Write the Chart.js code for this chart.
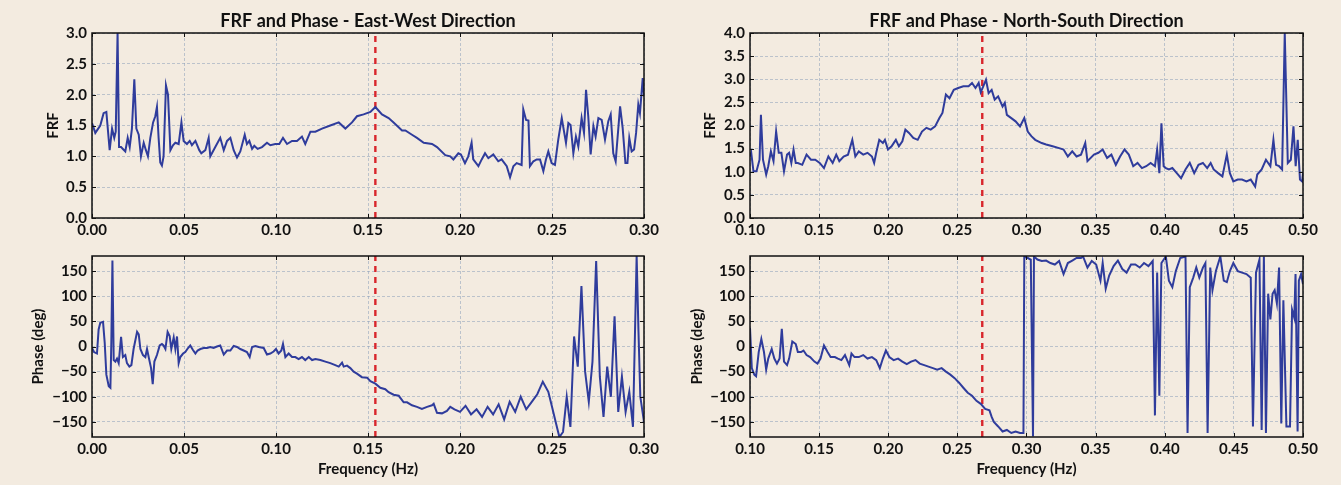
<!DOCTYPE html>
<html>
<head>
<meta charset="utf-8">
<script src="https://cdn.jsdelivr.net/npm/chart.js@4.4.0/dist/chart.umd.min.js"></script>
<style>
  body { margin: 0; background: #f3ebe0; width: 1341px; height: 485px; overflow: hidden; position: relative; }
  canvas { position: absolute; }
</style>
</head>
<body>
<canvas id="ewFrfChart" width="670" height="242" style="left:0;top:0"></canvas>
<canvas id="ewPhaseChart" width="670" height="243" style="left:0;top:242px"></canvas>
<canvas id="nsFrfChart" width="671" height="242" style="left:670px;top:0"></canvas>
<canvas id="nsPhaseChart" width="671" height="243" style="left:670px;top:242px"></canvas>
<script>
// frequency (Hz) / value pairs
const ewFrf = [
  [0.0000,1.54],[0.0018,1.38],[0.0045,1.50],[0.0063,1.70],[0.0078,1.72],[0.0096,1.10],[0.0109,1.45],[0.0121,1.30],
  [0.0129,1.40],[0.0139,3.00],[0.0147,1.15],[0.0158,1.15],[0.0168,1.12],[0.0181,1.08],[0.0194,1.30],[0.0205,1.15],
  [0.0217,1.45],[0.0230,2.25],[0.0241,1.45],[0.0254,1.35],[0.0266,1.00],[0.0281,1.22],[0.0293,1.10],[0.0304,1.00],
  [0.0317,1.30],[0.0332,1.55],[0.0344,1.65],[0.0353,1.80],[0.0362,1.30],[0.0371,0.90],[0.0380,0.85],[0.0389,1.00],
  [0.0402,2.15],[0.0413,2.00],[0.0426,1.10],[0.0440,1.18],[0.0453,1.22],[0.0471,1.20],[0.0486,1.55],[0.0498,1.25],
  [0.0516,1.20],[0.0531,1.25],[0.0543,1.18],[0.0562,1.25],[0.0583,1.10],[0.0594,1.05],[0.0616,1.10],[0.0634,1.30],
  [0.0643,1.00],[0.0670,1.15],[0.0697,1.30],[0.0716,1.10],[0.0734,1.25],[0.0752,1.30],[0.0770,1.10],[0.0788,0.98],
  [0.0806,1.08],[0.0830,1.35],[0.0842,1.20],[0.0855,1.25],[0.0870,1.12],[0.0882,1.17],[0.0900,1.12],[0.0924,1.15],
  [0.0951,1.22],[0.0969,1.18],[0.0996,1.20],[0.1018,1.20],[0.1038,1.30],[0.1060,1.20],[0.1087,1.25],[0.1114,1.25],
  [0.1141,1.32],[0.1159,1.20],[0.1187,1.40],[0.1214,1.40],[0.1250,1.45],[0.1295,1.50],[0.1341,1.55],[0.1377,1.45],
  [0.1413,1.55],[0.1440,1.65],[0.1476,1.68],[0.1513,1.72],[0.1540,1.80],[0.1576,1.68],[0.1612,1.62],[0.1639,1.55],
  [0.1685,1.42],[0.1703,1.42],[0.1739,1.35],[0.1766,1.30],[0.1803,1.22],[0.1848,1.20],[0.1875,1.15],[0.1920,1.02],
  [0.1947,1.00],[0.1964,0.95],[0.1991,1.05],[0.2005,1.03],[0.2027,0.89],[0.2045,1.00],[0.2063,1.22],[0.2072,0.95],
  [0.2100,0.84],[0.2118,0.95],[0.2136,1.05],[0.2154,0.97],[0.2181,1.03],[0.2208,0.92],[0.2226,0.95],[0.2254,0.84],
  [0.2272,0.66],[0.2290,0.84],[0.2308,0.89],[0.2335,0.86],[0.2344,1.76],[0.2359,1.59],[0.2372,1.58],[0.2380,0.84],
  [0.2399,0.92],[0.2417,0.95],[0.2435,0.95],[0.2453,0.76],[0.2467,0.95],[0.2480,1.08],[0.2498,0.89],[0.2516,0.86],
  [0.2534,1.27],[0.2553,1.62],[0.2565,1.41],[0.2576,1.22],[0.2589,1.54],[0.2601,1.51],[0.2616,1.05],[0.2630,1.32],
  [0.2643,1.16],[0.2661,1.62],[0.2674,1.38],[0.2685,2.08],[0.2697,1.65],[0.2710,1.03],[0.2725,1.49],[0.2737,1.32],
  [0.2752,1.62],[0.2770,1.59],[0.2788,1.27],[0.2806,1.57],[0.2819,1.68],[0.2833,1.05],[0.2846,0.92],[0.2870,1.81],
  [0.2884,1.46],[0.2899,0.89],[0.2910,0.89],[0.2920,1.30],[0.2933,1.08],[0.2946,1.11],[0.2957,1.38],[0.2969,1.84],
  [0.2978,1.70],[0.2993,2.27],[0.3000,1.97]
];
const ewPhase = [
  [0.0000,-3],[0.0011,-11],[0.0027,-14],[0.0036,34],[0.0045,47],[0.0060,49],[0.0069,8],[0.0078,-56],[0.0091,-79],
  [0.0100,-82],[0.0105,8],[0.0111,171],[0.0118,-27],[0.0127,-30],[0.0136,-24],[0.0145,-33],[0.0158,19],[0.0168,-21],
  [0.0181,-17],[0.0190,-33],[0.0203,-40],[0.0214,-37],[0.0226,-5],[0.0245,29],[0.0254,24],[0.0263,-5],[0.0277,-17],
  [0.0290,-21],[0.0299,-5],[0.0308,-21],[0.0321,-43],[0.0330,-75],[0.0339,-30],[0.0353,-17],[0.0368,2],[0.0380,5],
  [0.0389,2],[0.0399,-5],[0.0411,29],[0.0422,21],[0.0431,-5],[0.0444,18],[0.0453,-5],[0.0462,20],[0.0471,-33],
  [0.0480,-21],[0.0495,-14],[0.0507,-11],[0.0522,-3],[0.0534,2],[0.0547,-6],[0.0562,-14],[0.0574,-8],[0.0589,-5],
  [0.0607,-3],[0.0625,-3],[0.0643,-1],[0.0661,-3],[0.0679,0],[0.0697,2],[0.0716,-16],[0.0734,-8],[0.0752,-8],
  [0.0770,1],[0.0788,-1],[0.0806,-5],[0.0824,-8],[0.0842,-11],[0.0857,-21],[0.0870,-1],[0.0888,1],[0.0906,-1],
  [0.0933,-3],[0.0951,-16],[0.0969,-14],[0.0987,-10],[0.1000,-5],[0.1014,-14],[0.1029,-8],[0.1038,5],[0.1051,-21],
  [0.1069,-14],[0.1087,-21],[0.1105,-21],[0.1123,-25],[0.1141,-21],[0.1159,-27],[0.1178,-21],[0.1196,-27],[0.1214,-25],
  [0.1241,-27],[0.1268,-30],[0.1295,-33],[0.1322,-37],[0.1341,-40],[0.1359,-32],[0.1368,-40],[0.1386,-38],[0.1404,-43],
  [0.1422,-50],[0.1440,-54],[0.1467,-61],[0.1495,-62],[0.1513,-69],[0.1540,-74],[0.1567,-82],[0.1594,-85],[0.1612,-91],
  [0.1639,-96],[0.1667,-98],[0.1694,-111],[0.1712,-111],[0.1739,-117],[0.1766,-120],[0.1793,-124],[0.1821,-120],
  [0.1848,-117],[0.1857,-114],[0.1875,-132],[0.1902,-133],[0.1929,-128],[0.1947,-120],[0.1970,-125],[0.2000,-130],
  [0.2030,-118],[0.2060,-135],[0.2090,-125],[0.2120,-140],[0.2150,-120],[0.2180,-135],[0.2210,-115],[0.2240,-145],
  [0.2270,-110],[0.2300,-130],[0.2330,-100],[0.2360,-125],[0.2390,-110],[0.2420,-95],[0.2450,-70],[0.2480,-90],
  [0.2500,-120],[0.2520,-150],[0.2540,-180],[0.2560,-170],[0.2580,-100],[0.2600,-160],[0.2620,20],[0.2640,-40],
  [0.2660,120],[0.2680,-50],[0.2700,-110],[0.2720,-30],[0.2740,170],[0.2760,-60],[0.2780,-140],[0.2800,-40],
  [0.2820,-100],[0.2840,60],[0.2860,-130],[0.2880,-60],[0.2900,-130],[0.2920,-90],[0.2940,-160],[0.2960,180],
  [0.2970,30],[0.2980,-100],[0.3000,-150]
];
const nsFrf = [
  [0.1000,1.33],[0.1009,1.41],[0.1025,1.01],[0.1047,1.01],[0.1069,1.26],[0.1079,2.23],[0.1094,1.26],[0.1117,0.94],
  [0.1132,1.12],[0.1151,1.44],[0.1170,1.23],[0.1189,1.87],[0.1208,1.41],[0.1227,1.41],[0.1246,1.01],[0.1268,1.37],
  [0.1283,1.41],[0.1299,1.19],[0.1315,1.48],[0.1331,1.19],[0.1346,1.19],[0.1378,1.15],[0.1409,1.37],[0.1441,1.26],
  [0.1472,1.26],[0.1504,1.19],[0.1535,1.08],[0.1567,1.33],[0.1598,1.19],[0.1624,1.37],[0.1646,1.23],[0.1677,1.33],
  [0.1709,1.37],[0.1740,1.69],[0.1762,1.33],[0.1787,1.44],[0.1819,1.37],[0.1850,1.41],[0.1882,1.33],[0.1898,1.19],
  [0.1913,1.41],[0.1935,1.69],[0.1961,1.62],[0.1976,1.69],[0.1998,1.48],[0.2024,1.55],[0.2055,1.69],[0.2077,1.55],
  [0.2102,1.66],[0.2124,1.91],[0.2150,1.84],[0.2181,1.73],[0.2213,1.69],[0.2244,1.87],[0.2276,1.95],[0.2307,1.91],
  [0.2339,1.98],[0.2370,2.16],[0.2392,2.27],[0.2417,2.67],[0.2443,2.59],[0.2474,2.77],[0.2506,2.81],[0.2543,2.85],
  [0.2581,2.85],[0.2606,2.92],[0.2631,2.81],[0.2654,2.92],[0.2669,2.72],[0.2685,2.83],[0.2707,2.99],[0.2726,2.70],
  [0.2748,2.77],[0.2770,2.56],[0.2795,2.63],[0.2827,2.41],[0.2843,2.49],[0.2858,2.23],[0.2890,2.16],[0.2921,2.09],
  [0.2953,1.98],[0.2984,2.16],[0.3009,1.87],[0.3035,1.77],[0.3063,1.69],[0.3110,1.62],[0.3142,1.59],[0.3189,1.55],
  [0.3236,1.51],[0.3268,1.48],[0.3299,1.33],[0.3331,1.44],[0.3362,1.33],[0.3394,1.37],[0.3425,1.62],[0.3441,1.23],
  [0.3488,1.37],[0.3520,1.41],[0.3551,1.48],[0.3583,1.30],[0.3614,1.37],[0.3646,1.15],[0.3677,1.33],[0.3709,1.48],
  [0.3740,1.37],[0.3772,1.12],[0.3803,1.19],[0.3835,1.08],[0.3866,1.12],[0.3898,1.19],[0.3929,1.12],[0.3945,1.48],
  [0.3961,0.97],[0.3976,2.05],[0.3992,1.12],[0.4008,1.08],[0.4030,1.05],[0.4055,1.08],[0.4087,0.97],[0.4118,0.86],
  [0.4150,1.05],[0.4181,1.19],[0.4213,0.97],[0.4244,1.15],[0.4276,1.19],[0.4307,1.08],[0.4332,1.19],[0.4354,1.05],
  [0.4386,0.97],[0.4417,0.90],[0.4449,1.37],[0.4471,0.97],[0.4496,0.79],[0.4528,0.83],[0.4559,0.83],[0.4591,0.79],
  [0.4622,0.83],[0.4654,0.68],[0.4669,0.94],[0.4701,1.05],[0.4732,1.26],[0.4764,1.12],[0.4786,1.69],[0.4805,1.15],
  [0.4827,1.12],[0.4849,1.05],[0.4868,4.00],[0.4890,1.19],[0.4912,1.26],[0.4931,1.98],[0.4947,1.12],[0.4962,1.69],
  [0.4978,0.83],[0.4994,0.79],[0.5000,0.97]
];
const nsPhase = [
  [0.1000,37],[0.1013,-43],[0.1031,-56],[0.1044,-59],[0.1063,-11],[0.1082,15],[0.1101,-11],[0.1117,-46],[0.1132,-24],
  [0.1157,-5],[0.1176,-24],[0.1195,-34],[0.1214,-24],[0.1230,35],[0.1246,-30],[0.1268,-37],[0.1283,-24],[0.1306,10],
  [0.1331,5],[0.1346,-11],[0.1369,-11],[0.1387,-8],[0.1409,-17],[0.1435,-21],[0.1466,-30],[0.1488,-34],[0.1510,-24],
  [0.1535,2],[0.1561,-11],[0.1583,-21],[0.1614,-21],[0.1636,-24],[0.1661,-27],[0.1687,-17],[0.1718,-37],[0.1734,-14],
  [0.1756,-21],[0.1787,-21],[0.1819,-17],[0.1850,-24],[0.1882,-21],[0.1913,-27],[0.1939,-43],[0.1961,-24],[0.1983,-8],
  [0.2008,-21],[0.2039,-27],[0.2071,-24],[0.2102,-30],[0.2134,-35],[0.2165,-30],[0.2197,-27],[0.2228,-34],[0.2260,-37],
  [0.2291,-40],[0.2323,-43],[0.2354,-46],[0.2386,-43],[0.2417,-50],[0.2449,-56],[0.2480,-63],[0.2512,-72],[0.2543,-82],
  [0.2575,-92],[0.2606,-98],[0.2638,-108],[0.2669,-114],[0.2701,-124],[0.2732,-127],[0.2748,-140],[0.2764,-150],
  [0.2795,-159],[0.2827,-169],[0.2858,-166],[0.2890,-172],[0.2921,-169],[0.2953,-172],[0.2978,-172],[0.2984,179],
  [0.3009,176],[0.3031,173],[0.3047,-179],[0.3054,179],[0.3079,173],[0.3110,170],[0.3142,171],[0.3173,166],[0.3205,163],
  [0.3236,170],[0.3268,144],[0.3299,166],[0.3331,171],[0.3362,176],[0.3394,176],[0.3409,179],[0.3441,157],[0.3472,170],
  [0.3504,163],[0.3535,131],[0.3551,166],[0.3573,115],[0.3598,141],[0.3630,160],[0.3661,171],[0.3693,154],[0.3724,147],
  [0.3756,163],[0.3787,163],[0.3819,157],[0.3850,166],[0.3882,160],[0.3913,170],[0.3929,-137],[0.3945,147],[0.3961,-98],
  [0.3976,166],[0.4008,179],[0.4030,131],[0.4055,118],[0.4080,150],[0.4112,176],[0.4150,179],[0.4165,-172],[0.4181,118],
  [0.4206,137],[0.4228,157],[0.4250,137],[0.4276,157],[0.4294,166],[0.4310,-172],[0.4329,157],[0.4345,112],[0.4370,150],
  [0.4402,179],[0.4427,131],[0.4449,128],[0.4471,150],[0.4496,166],[0.4528,150],[0.4559,147],[0.4591,144],[0.4622,137],
  [0.4638,-159],[0.4660,147],[0.4685,173],[0.4701,-166],[0.4717,179],[0.4732,-172],[0.4748,105],[0.4764,54],[0.4780,105],
  [0.4795,112],[0.4811,86],[0.4827,157],[0.4843,-153],[0.4858,92],[0.4880,-159],[0.4906,-159],[0.4921,73],[0.4937,57],
  [0.4946,144],[0.4961,-169],[0.4970,131],[0.4986,144],[0.5000,124]
];

const ewPeak = 0.154;
const nsPeak = 0.268;

const ewFreqTicks = [0, 0.05, 0.10, 0.15, 0.20, 0.25, 0.30];
const nsFreqTicks = [0.10, 0.15, 0.20, 0.25, 0.30, 0.35, 0.40, 0.45, 0.50];
const ewFrfTicks = [0, 0.5, 1.0, 1.5, 2.0, 2.5, 3.0];
const nsFrfTicks = [0, 0.5, 1.0, 1.5, 2.0, 2.5, 3.0, 3.5, 4.0];
const phaseTicks = [-150, -100, -50, 0, 50, 100, 150];

const BLUE = '#2f3c9c';
const RED = '#d8262c';
const GRID = 'rgba(140,160,185,0.55)';
const FONT = 'Lato';

// black frame round the plot and small inward tick marks on all four sides
const framePlugin = {
  id: 'frame',
  afterDraw(chart) {
    const { ctx, chartArea: a, scales: { x, y } } = chart;
    ctx.save();
    ctx.strokeStyle = '#111';
    ctx.lineWidth = 1.5;
    ctx.strokeRect(a.left, a.top, a.right - a.left, a.bottom - a.top);
    ctx.lineWidth = 1;
    ctx.beginPath();
    x.ticks.forEach(t => {
      const px = Math.round(x.getPixelForValue(t.value)) + 0.5;
      ctx.moveTo(px, a.bottom); ctx.lineTo(px, a.bottom - 4);
      ctx.moveTo(px, a.top); ctx.lineTo(px, a.top + 4);
    });
    y.ticks.forEach(t => {
      const py = Math.round(y.getPixelForValue(t.value)) + 0.5;
      ctx.moveTo(a.left, py); ctx.lineTo(a.left + 4, py);
      ctx.moveTo(a.right, py); ctx.lineTo(a.right - 4, py);
    });
    ctx.stroke();
    ctx.restore();
  }
};

function makePanel(id, cfg) {
  const tickFont = { family: FONT, size: 15, weight: 'bold' };
  return new Chart(document.getElementById(id), {
    type: 'line',
    data: {
      datasets: [
        {
          data: cfg.points.map(p => ({ x: p[0], y: p[1] })),
          borderColor: BLUE,
          borderWidth: 2,
          pointRadius: 0,
          tension: 0
        },
        {
          data: [{ x: cfg.peak, y: cfg.yMin }, { x: cfg.peak, y: cfg.yMax }],
          borderColor: RED,
          borderWidth: 2.4,
          borderDash: [6, 5],
          pointRadius: 0
        }
      ]
    },
    options: {
      responsive: false,
      animation: false,
      devicePixelRatio: 1,
      layout: { padding: { left: 0, top: cfg.padTop, right: cfg.padRight, bottom: 0 } },
      plugins: {
        legend: { display: false },
        tooltip: { enabled: false },
        title: {
          display: !!cfg.title,
          text: cfg.title || '',
          fullSize: false,
          color: '#111',
          font: { family: FONT, size: 18, weight: 'bold', lineHeight: 1 },
          padding: { top: 12, bottom: 3 }
        }
      },
      scales: {
        x: {
          type: 'linear',
          min: cfg.xTicks[0],
          max: cfg.xTicks[cfg.xTicks.length - 1],
          afterBuildTicks: s => { s.ticks = cfg.xTicks.map(v => ({ value: v })); },
          afterFit: s => { s.height = cfg.xHeight; },
          ticks: { autoSkip: false, maxRotation: 0, padding: 3, color: '#111', font: tickFont,
                   callback: v => v.toFixed(2) },
          grid: { color: GRID, drawTicks: false },
          border: { display: false, dash: [3, 2] },
          title: {
            display: !!cfg.xTitle,
            text: cfg.xTitle || '',
            color: '#111',
            font: { family: FONT, size: 15, weight: 'bold' },
            padding: { top: 0, bottom: 7 }
          }
        },
        y: {
          min: cfg.yMin,
          max: cfg.yMax,
          afterBuildTicks: s => { s.ticks = cfg.yTicks.map(v => ({ value: v })); },
          afterFit: s => { s.width = cfg.yWidth; },
          ticks: { autoSkip: false, padding: 5, color: '#111', font: tickFont,
                   callback: v => v.toFixed(cfg.yDigits).replace('-', '\u2212') },
          grid: { color: GRID, drawTicks: false },
          border: { display: false, dash: [3, 2] },
          title: {
            display: true,
            text: cfg.yTitle,
            color: '#111',
            font: { family: FONT, size: 15, weight: 'bold' },
            padding: { top: cfg.yTitlePad, bottom: 0 }
          }
        }
      }
    },
    plugins: [framePlugin]
  });
}

makePanel('ewFrfChart', {
  points: ewFrf, peak: ewPeak, yMin: 0, yMax: 3, yDigits: 1,
  xTicks: ewFreqTicks, yTicks: ewFrfTicks,
  title: 'FRF and Phase - East-West Direction', yTitle: 'FRF', yTitlePad: 44,
  padTop: 0, padRight: 26, xHeight: 24, yWidth: 92
});
makePanel('ewPhaseChart', {
  points: ewPhase, peak: ewPeak, yMin: -180, yMax: 180, yDigits: 0,
  xTicks: ewFreqTicks, yTicks: phaseTicks,
  yTitle: 'Phase (deg)', yTitlePad: 29, xTitle: 'Frequency (Hz)',
  padTop: 10, padRight: 26, xHeight: 48, yWidth: 92
});
makePanel('nsFrfChart', {
  points: nsFrf, peak: nsPeak, yMin: 0, yMax: 4, yDigits: 1,
  xTicks: nsFreqTicks, yTicks: nsFrfTicks,
  title: 'FRF and Phase - North-South Direction', yTitle: 'FRF', yTitlePad: 31,
  padTop: 0, padRight: 38, xHeight: 24, yWidth: 80
});
makePanel('nsPhaseChart', {
  points: nsPhase, peak: nsPeak, yMin: -180, yMax: 180, yDigits: 0,
  xTicks: nsFreqTicks, yTicks: phaseTicks,
  yTitle: 'Phase (deg)', yTitlePad: 18, xTitle: 'Frequency (Hz)',
  padTop: 10, padRight: 38, xHeight: 48, yWidth: 80
});
</script>
</body>
</html>
